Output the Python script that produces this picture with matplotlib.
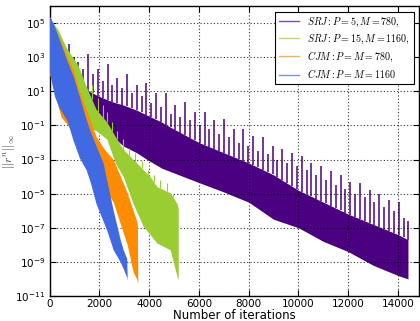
import matplotlib
matplotlib.use('Agg')
import matplotlib.pyplot as plt
from matplotlib.lines import Line2D
import numpy as np

plt.rcParams['mathtext.fontset'] = 'cm'
plt.rcParams['font.family'] = 'DejaVu Sans'

# residual norms, stored as log10 of ||r^n||_inf (body of the oscillating curve)
# SRJ: P=5, M=780
srj5_it = [0, 600, 1200, 1600, 2000, 2500, 2960, 3500, 3920, 4500, 4850, 6000, 7000,
           8000, 9000, 10000, 11000, 12000, 13000, 14000, 14400]
srj5_hi = [5.3, 3.0, 1.6, 1.0, 0.7, 0.4, 0.2, -0.1, -0.4, -0.8, -1.1, -2.0, -2.6,
           -3.2, -3.9, -4.8, -5.5, -6.2, -6.8, -7.4, -7.7]
srj5_lo = [2.5, 0.0, -0.8, -1.0, -1.2, -1.6, -2.2, -2.6, -3.0, -3.5, -3.7, -4.35, -4.9,
           -5.5, -6.5, -7.0, -7.8, -8.4, -9.2, -9.8, -10.0]
# spikes at the start of each relaxation sub-cycle
srj5_spk_it = [770, 965, 1160, 1355, 1550, 1745, 1940, 2135, 2330, 2525, 2720, 2915,
               3110, 3305, 3500, 3695, 3890, 4085, 4280, 4475, 4670, 4865, 5060, 5255,
               5450, 5645, 5840, 6035, 6230, 6425, 6620, 6815, 7010, 7205, 7400, 7595,
               7790, 7985, 8180, 8375, 8570, 8765, 8960, 9155, 9350, 9545, 9740, 9935,
               10130, 10325, 10520, 10715, 10910, 11105, 11300, 11495, 11690, 11885,
               12080, 12275, 12470, 12665, 12860, 13055, 13250, 13445, 13640, 13835,
               14030, 14225, 14400]
srj5_spk = [3.8, 3.0, 2.7, 2.3, 3.2, 2.0, 2.3, 1.6, 2.6, 1.4, 1.8, 1.2,
            2.0, 0.9, 1.4, 0.7, 1.5, 0.3, 0.9, 0.1, 0.9, -0.3, 0.2, -0.5,
            0.4, -0.7, -0.2, -1.0, -0.2, -1.2, -0.7, -1.5, -0.65, -1.7, -1.2, -2.0,
            -1.2, -2.2, -1.6, -2.5, -1.7, -2.7, -2.2, -3.0, -2.4, -3.2, -2.6, -3.4,
            -2.8, -3.6, -3.2, -3.9, -3.35, -4.2, -3.7, -4.5, -3.9, -4.7,
            -4.3, -5.0, -4.4, -5.2, -4.8, -5.5, -5.0, -5.8, -5.4, -6.0,
            -5.5, -6.4, -6.6]

# SRJ: P=15, M=1160
srj15_it = [0, 340, 660, 1150, 1470, 1870, 2300, 2640, 2960, 3360, 3640, 3760, 4040,
            4320, 4850, 5130, 5170]
srj15_hi = [5.3, 4.6, 3.6, 2.5, 1.3, -0.05, -0.8, -1.65, -2.4, -3.0, -3.4, -3.6, -4.0,
            -4.6, -4.95, -5.6, -5.9]
srj15_lo = [2.5, 0.8, 0.0, -0.8, -1.1, -1.3, -1.8, -3.2, -4.0, -5.6, -6.5, -6.9, -7.4,
            -7.9, -8.3, -9.9, -10.0]
srj15_spk_it = [1700, 1950, 2150, 2300, 2500, 2700, 2950, 3200, 3450, 3700, 3950, 4200,
                4450, 4700, 4950]
srj15_spk = [1.4, 0.6, 0.2, -0.2, -0.8, -1.3, -1.8, -2.3, -2.6, -3.1, -3.6, -3.9,
             -4.2, -4.4, -5.0]

# CJM: P=M=780
cjm780_it = [0, 460, 740, 950, 1200, 1470, 1870, 2200, 2560, 2850, 3120, 3360, 3500, 3530, 3545]
cjm780_hi = [5.4, 3.9, 2.9, 2.3, 1.0, -0.05, -1.65, -2.4, -3.0, -4.0, -4.95, -6.0, -6.6, -6.9, -10.2]
cjm780_lo = [2.0, -0.5, -1.0, -1.5, -2.3, -2.8, -3.6, -4.6, -5.5, -6.8, -8.0, -9.6, -10.0, -10.2, -10.2]

# CJM: P=M=1160
cjm1160_it = [0, 200, 400, 700, 950, 1200, 1470, 1650, 1870, 2150, 2310, 2560, 2840, 2960, 3100, 3120]
cjm1160_hi = [5.4, 4.8, 4.0, 2.8, 1.9, 0.7, -0.65, -1.4, -2.2, -3.2, -4.3, -6.0, -7.7, -8.3, -8.8, -10.0]
cjm1160_lo = [2.1, 0.7, 0.0, -0.7, -1.9, -2.9, -3.6, -4.4, -5.6, -6.6, -7.2, -8.3, -9.0, -9.4, -9.9, -10.1]

labels = [r'$SRJ:P=5,M=780,$', r'$SRJ:P=15,M=1160,$',
          r'$CJM:P=M=780,$', r'$CJM:P=M=1160$']
colors = ['#4B0082', '#9ACD32', '#FF8C00', '#4169E1']

ytick_exp = [-11, -9, -7, -5, -3, -1, 1, 3, 5]
xticks = [0, 2000, 4000, 6000, 8000, 10000, 12000, 14000]

fig = plt.figure(figsize=(4.2, 3.21), dpi=100)
ax = fig.add_axes([0.118, 0.078, 0.88, 0.903])
ax.set_yscale('log')

series = [(srj5_it, srj5_hi, srj5_lo), (srj15_it, srj15_hi, srj15_lo),
          (cjm780_it, cjm780_hi, cjm780_lo), (cjm1160_it, cjm1160_hi, cjm1160_lo)]
spikes = {0: (srj5_spk_it, srj5_spk), 1: (srj15_spk_it, srj15_spk)}

for i, (it, hi, lo) in enumerate(series):
    it = np.array(it, float)
    ax.fill_between(it, 10.0**np.array(lo), 10.0**np.array(hi), color=colors[i],
                    lw=0, zorder=2 + i)
    if i in spikes:
        sx, sy = spikes[i]
        base = np.interp(sx, it, hi)
        ax.vlines(sx, 10.0**base, 10.0**np.array(sy), color=colors[i],
                  lw=1.1 if i == 0 else 0.8, zorder=2 + i)

ax.set_xlim(0, 14850)
ax.set_ylim(1e-11, 1e6)
ax.set_xticks(xticks)
ax.set_yticks([10.0**e for e in ytick_exp])
ax.set_yticklabels([r'$\mathdefault{10^{%d}}$' % e for e in ytick_exp])
ax.minorticks_off()
ax.tick_params(which='both', direction='in', top=True, right=True, labelsize=7.5,
               length=4, width=0.8, pad=3)
ax.tick_params(axis='x', pad=2)
ax.grid(True, color='k', ls=(0, (1, 2)), lw=0.8, alpha=0.8)
ax.set_axisbelow(False)
for s in ax.spines.values():
    s.set_linewidth(1.0)

ax.set_xlabel('Number of iterations', fontsize=8.5, labelpad=0)
ax.set_ylabel(r'$||r^n||_\infty$', fontsize=8.5, color='#444444')
ax.yaxis.set_label_coords(-0.088, 0.5)

handles = [Line2D([], [], color=c, lw=1.0, alpha=0.7) for c in colors]
leg = ax.legend(handles, labels, loc='upper right', fontsize=7.2, fancybox=False,
                framealpha=1, edgecolor='k', borderaxespad=0.55, labelspacing=0.35,
                handlelength=2.0)
leg.get_frame().set_linewidth(0.8)
leg.set_zorder(10)

fig.savefig('out.png', dpi=100)
